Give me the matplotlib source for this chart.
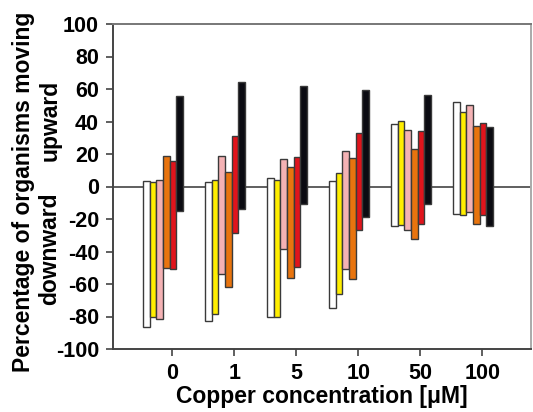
import numpy as np
import matplotlib
matplotlib.use("Agg")
import matplotlib.pyplot as plt

plt.rcParams['font.family'] = ['Liberation Sans', 'DejaVu Sans']
plt.rcParams['font.weight'] = 'bold'
plt.rcParams['axes.unicode_minus'] = False

# Copper concentration groups
concentrations = ["0", "1", "5", "10", "50", "100"]

# bar colours (one series per colour)
series_colors = ["#ffffff", "#ffee00", "#f4b2b4", "#e8740e", "#e0141c", "#0b0b12"]

# upward percentages (top of each bar), rows = series, cols = concentrations
upward = [
    [3.1, 2.6, 5.1, 3.5, 38.6, 52.3],      # white
    [3.0, 4.3, 3.7, 8.4, 40.2, 45.7],      # yellow
    [4.3, 18.5, 16.7, 21.7, 34.5, 50.0],   # pink
    [18.6, 9.2, 12.3, 17.4, 23.2, 37.4],   # orange
    [15.4, 31.0, 18.0, 32.8, 34.0, 39.2],  # red
    [55.5, 64.2, 61.7, 59.5, 56.4, 36.5],  # black
]

# downward percentages (bottom of each bar)
downward = [
    [-86.2, -83.0, -80.5, -74.9, -24.0, -16.8],
    [-80.6, -78.5, -80.0, -66.0, -23.4, -17.8],
    [-81.3, -53.8, -38.4, -50.6, -27.0, -15.4],
    [-50.0, -61.7, -56.0, -57.0, -32.2, -23.0],
    [-51.0, -28.7, -49.4, -26.7, -23.0, -17.8],
    [-15.2, -13.6, -10.7, -18.9, -10.7, -24.4],
]

fig = plt.figure(figsize=(5.33, 4.12), dpi=100)
ax = fig.add_axes([113 / 533, 1 - 349 / 412, (531 - 113) / 533, (349 - 24) / 412])

x = np.arange(len(concentrations))
w = 0.108
for i, col in enumerate(series_colors):
    lo = np.array(downward[i])
    hi = np.array(upward[i])
    ax.bar(x + (i - 2.5) * w, hi - lo, bottom=lo, width=w, color=col,
           edgecolor="#3a3a3a", linewidth=1.0, zorder=3)

ax.axhline(0, color="#444444", linewidth=1.2, zorder=2)

ax.set_ylim(-100, 100)
ax.set_xlim(-0.806, 5.935)
ax.set_yticks(np.arange(-100, 101, 20))
ax.set_xticks(x + 0.15)
ax.set_xticklabels(concentrations)
ax.tick_params(axis='both', direction='out', length=5, width=1.2, color="#444444",
               labelsize=15.5, pad=5)
for lab in ax.get_xticklabels() + ax.get_yticklabels():
    lab.set_fontweight('bold')

ax.spines['left'].set_color("#444444")
ax.spines['bottom'].set_color("#444444")
ax.spines['top'].set_color("#777777")
ax.spines['right'].set_color("#aaaaaa")
for s in ax.spines.values():
    s.set_linewidth(1.4)

ax.set_xlabel("Copper concentration [μM]", fontsize=16.5, fontweight='bold', labelpad=1)

fig.text(24 / 533, 1 - 192 / 412, "Percentage of organisms moving", rotation=90,
         ha='center', va='center', fontsize=16.5, fontweight='bold')
fig.text(50 / 533, 1 - 120 / 412, "upward", rotation=90,
         ha='center', va='center', fontsize=16.5, fontweight='bold')
fig.text(50 / 533, 1 - 249 / 412, "downward", rotation=90,
         ha='center', va='center', fontsize=16.5, fontweight='bold')

fig.savefig("out.png", dpi=100)
